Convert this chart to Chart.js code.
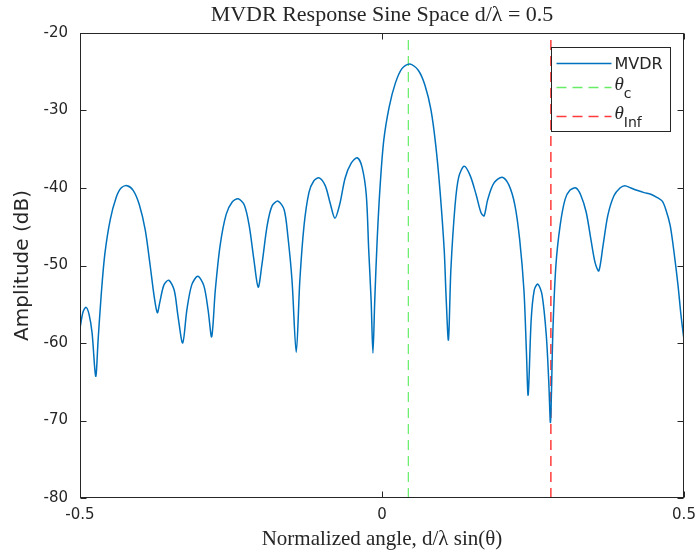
<!DOCTYPE html>
<html>
<head>
<meta charset="utf-8">
<script src="https://cdn.jsdelivr.net/npm/chart.js@4.4.1/dist/chart.umd.min.js"></script>
<style>
  html, body { margin: 0; padding: 0; background: #fff; }
  #wrap { width: 697px; height: 556px; }
</style>
</head>
<body>
<div id="wrap"><canvas id="chart"></canvas></div>
<script>
// normalized angle, d/lambda * sin(theta)
const angle = [
  -0.500, -0.495, -0.490, -0.485, -0.480, -0.474, -0.470, -0.465, -0.459, -0.450,
  -0.440, -0.432, -0.422, -0.412, -0.402, -0.392, -0.384, -0.377, -0.372, -0.368,
  -0.361, -0.353, -0.344, -0.338, -0.330, -0.323, -0.315, -0.305, -0.295, -0.288,
  -0.282, -0.276, -0.268, -0.258, -0.248, -0.238, -0.228, -0.220, -0.212, -0.205,
  -0.199, -0.190, -0.182, -0.172, -0.162, -0.156, -0.149, -0.142, -0.136, -0.129,
  -0.121, -0.113, -0.104, -0.094, -0.086, -0.078, -0.070, -0.061, -0.051, -0.041,
  -0.033, -0.026, -0.022, -0.018, -0.015, -0.012, -0.008, -0.003, 0.003, 0.012,
  0.022, 0.033, 0.046, 0.060, 0.071, 0.081, 0.089, 0.096, 0.103, 0.106,
  0.110, 0.114, 0.121, 0.127, 0.136, 0.146, 0.156, 0.164, 0.169, 0.175,
  0.185, 0.199, 0.210, 0.220, 0.228, 0.235, 0.239, 0.242, 0.247, 0.252,
  0.258, 0.265, 0.272, 0.276, 0.279, 0.283, 0.288, 0.295, 0.303, 0.311,
  0.321, 0.329, 0.338, 0.346, 0.353, 0.359, 0.366, 0.374, 0.384, 0.394,
  0.402, 0.412, 0.422, 0.434, 0.445, 0.455, 0.464, 0.470, 0.477, 0.483,
  0.490, 0.495, 0.500
];
// MVDR response, dB
const mvdrDb = [
  -58.1, -56.0, -55.4, -56.3, -58.7, -64.3, -59.6, -53.9, -48.6, -44.1,
  -41.2, -40.0, -39.7, -40.3, -42.1, -45.4, -49.9, -54.1, -56.1, -54.8,
  -52.5, -51.9, -53.2, -56.4, -60.0, -55.7, -52.5, -51.4, -52.6, -55.7,
  -59.2, -53.2, -47.4, -43.4, -41.8, -41.4, -42.2, -44.8, -49.3, -52.8,
  -50.0, -44.8, -42.3, -41.7, -42.8, -46.1, -51.9, -61.2, -51.9, -44.8,
  -40.6, -39.1, -38.7, -39.7, -41.9, -43.9, -42.1, -38.7, -36.8, -36.1,
  -37.3, -40.9, -48.0, -54.5, -61.3, -54.5, -46.7, -39.6, -33.8, -29.5,
  -26.5, -24.6, -24.0, -24.8, -26.7, -29.9, -34.5, -40.3, -48.0, -53.8,
  -59.6, -50.6, -42.2, -38.6, -37.2, -38.4, -40.9, -43.2, -43.6, -41.5,
  -39.4, -38.6, -39.6, -42.2, -46.7, -53.2, -60.9, -66.7, -57.0, -53.2,
  -52.4, -53.8, -59.0, -64.8, -70.2, -58.3, -49.9, -44.8, -41.5, -40.3,
  -40.0, -40.9, -43.1, -46.7, -49.7, -50.7, -47.4, -43.5, -41.0, -40.0,
  -39.7, -40.0, -40.3, -40.6, -40.8, -41.2, -41.7, -42.8, -44.8, -48.0,
  -52.5, -56.4, -59.6
];
const thetaC = 0.0436;
const thetaInf = 0.2796;
const yRange = [-80, -20];
const xTickStep = 0.5;
const yTickStep = 10;

const ink = '#262626';
const sans = 'DejaVu Sans';
const serif = 'Liberation Serif';

// box + inward ticks, matlab style
const framePlugin = {
  id: 'frame',
  afterDatasetsDraw(chart) {
    const ctx = chart.ctx;
    const a = chart.chartArea;
    const xs = chart.scales.x, ys = chart.scales.y;
    const L = Math.round(a.left) + 0.5, R = Math.round(a.right) - 0.5;
    const T = Math.round(a.top) + 0.5, B = Math.round(a.bottom) - 0.5;
    ctx.save();
    ctx.strokeStyle = ink;
    ctx.lineWidth = 1;
    ctx.strokeRect(L, T, R - L, B - T);
    ctx.beginPath();
    xs.ticks.forEach(t => {
      const px = Math.round(xs.getPixelForValue(t.value)) + 0.5;
      ctx.moveTo(px, B); ctx.lineTo(px, B - 6);
      ctx.moveTo(px, T); ctx.lineTo(px, T + 6);
    });
    ys.ticks.forEach(t => {
      const py = Math.round(ys.getPixelForValue(t.value)) + 0.5;
      ctx.moveTo(L, py); ctx.lineTo(L + 6, py);
      ctx.moveTo(R, py); ctx.lineTo(R - 6, py);
    });
    ctx.stroke();
    ctx.restore();
  }
};

// legend box in the top right corner
const legendPlugin = {
  id: 'boxLegend',
  afterDraw(chart) {
    const ctx = chart.ctx;
    const a = chart.chartArea;
    const w = 119, h = 84;
    const x0 = Math.round(a.right) - 14 - w + 0.5;
    const y0 = Math.round(a.top) + 14 + 0.5;
    ctx.save();
    ctx.fillStyle = '#fff';
    ctx.fillRect(x0, y0, w, h);
    ctx.strokeStyle = ink;
    ctx.lineWidth = 1;
    ctx.strokeRect(x0, y0, w, h);
    const rows = [16, 40, 69];
    chart.data.datasets.forEach((ds, i) => {
      const y = y0 + rows[i];
      ctx.strokeStyle = ds.borderColor;
      ctx.lineWidth = 1.5;
      ctx.setLineDash(ds.borderDash || []);
      ctx.beginPath();
      ctx.moveTo(x0 + 5, y);
      ctx.lineTo(x0 + 60, y);
      ctx.stroke();
      ctx.setLineDash([]);
      ctx.fillStyle = ink;
      ctx.textBaseline = 'middle';
      const parts = ds.label.split('_');
      if (parts.length === 1) {
        ctx.font = '16px ' + sans;
        ctx.fillText(parts[0], x0 + 63, y + 1);
      } else {
        ctx.font = 'italic 19px ' + serif;
        ctx.fillText(parts[0], x0 + 63, y - 3);
        const wth = ctx.measureText(parts[0]).width;
        ctx.font = '14px ' + sans;
        ctx.fillText(parts[1], x0 + 63 + wth, y + 7);
      }
    });
    ctx.restore();
  }
};

new Chart(document.getElementById('chart'), {
  type: 'line',
  data: {
    datasets: [
      {
        label: 'MVDR',
        data: angle.map((v, i) => ({ x: v, y: mvdrDb[i] })),
        borderColor: '#0072BD',
        borderWidth: 1.5,
        pointRadius: 0,
        tension: 0.3,
        fill: false
      },
      {
        label: 'θ_c',
        data: [{ x: thetaC, y: yRange[0] }, { x: thetaC, y: yRange[1] }],
        borderColor: '#66ec66',
        borderWidth: 1.2,
        borderDash: [10, 6],
        pointRadius: 0,
        fill: false
      },
      {
        label: 'θ_Inf',
        data: [{ x: thetaInf, y: yRange[0] }, { x: thetaInf, y: yRange[1] }],
        borderColor: '#ff3b3b',
        borderWidth: 1.5,
        borderDash: [10, 6],
        pointRadius: 0,
        fill: false
      }
    ]
  },
  options: {
    responsive: true,
    maintainAspectRatio: false,
    animation: false,
    layout: { padding: { left: 0, right: 13, top: 0, bottom: 0 } },
    plugins: {
      legend: { display: false },
      tooltip: { enabled: false },
      title: {
        display: true,
        fullSize: false,
        text: 'MVDR Response Sine Space d/λ = 0.5',
        color: ink,
        font: { family: serif, size: 22, weight: 'normal', lineHeight: 1.2 },
        padding: { top: 2, bottom: 4.6 }
      }
    },
    scales: {
      x: {
        type: 'linear',
        min: -0.5,
        max: 0.5,
        ticks: { stepSize: xTickStep, color: ink, font: { family: sans, size: 15 }, padding: 8, maxRotation: 0 },
        grid: { display: false, drawTicks: false },
        border: { display: false },
        title: {
          display: true,
          text: 'Normalized angle, d/λ sin(θ)',
          color: ink,
          font: { family: serif, size: 21 },
          padding: { top: 1 }
        },
        afterFit: s => { s.height = 58; s.paddingLeft = 0; s.paddingRight = 0; }
      },
      y: {
        min: yRange[0],
        max: yRange[1],
        ticks: { stepSize: yTickStep, color: ink, font: { family: sans, size: 15 }, padding: 12 },
        grid: { display: false, drawTicks: false },
        border: { display: false },
        title: {
          display: true,
          text: 'Amplitude (dB)',
          color: ink,
          font: { family: sans, size: 20 },
          padding: { top: 11 }
        },
        afterFit: s => { s.width = 80; s.paddingTop = 0; s.paddingBottom = 0; }
      }
    }
  },
  plugins: [framePlugin, legendPlugin]
});
</script>
</body>
</html>
